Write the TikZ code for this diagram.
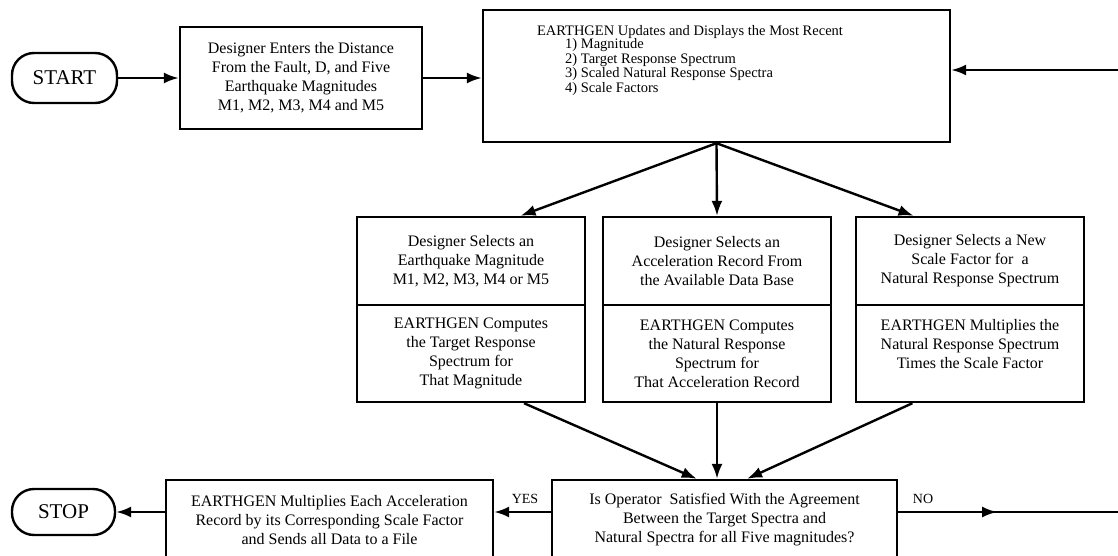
\documentclass[tikz,border=0pt]{standalone}
\usepackage{fontspec}
\setmainfont{Liberation Serif}
\usetikzlibrary{arrows.meta,calc,decorations.markings}

\newcommand{\boxfont}{\fontsize{16}{19}\selectfont}
\newcommand{\listfont}{\fontsize{14.5}{14.5}\selectfont}
\newcommand{\termfont}{\fontsize{21}{24}\selectfont}
\newcommand{\labelfont}{\fontsize{14}{16}\selectfont}

\begin{document}
\begin{tikzpicture}
    [x=1pt, y=-1pt,
    every node/.style={inner sep=0pt},
    box/.style={draw, line width=2.4pt, align=center, font=\boxfont},
    term/.style={draw, line width=2.4pt, rounded corners=22pt, font=\termfont},
    flow/.style={line width=2.4pt, -{Latex[length=15pt,width=11pt]}},
    midflow/.style={line width=2.4pt, postaction={decorate},
        decoration={markings, mark=at position 0.45 with {\arrow{Latex[length=15pt,width=11pt]}}}}
    ]
    \useasboundingbox (0,0) rectangle (1118,556);
    \clip (0,0) rectangle (1118,556);

    % top row
    \node[term, minimum width=105pt, minimum height=50pt] (start) at (64.5,78) {START};
    \node[box, minimum width=242pt, minimum height=102pt] (enter) at (301,78)
        {Designer Enters the Distance\\From the Fault, D, and Five\\Earthquake Magnitudes\\M1, M2, M3, M4 and M5};
    \node[box, minimum width=467pt, minimum height=132pt] (upd) at (716.5,76) {};
    \node[font=\listfont] (updtitle) at (690,32) {EARTHGEN Updates and Displays the Most Recent};
    \node[font=\listfont, align=left, anchor=west] (updlist) at (565,67)
        {1) Magnitude\\2) Target Response Spectrum\\3) Scaled Natural Response Spectra\\4) Scale Factors};
    \coordinate (loopin) at (1118,70);

    % middle row
    \node[box, minimum width=228pt, minimum height=88pt] (selA) at (471,261)
        {Designer Selects an\\Earthquake Magnitude\\M1, M2, M3, M4 or M5};
    \node[box, minimum width=228pt, minimum height=97pt] (compA) at (471,353.5)
        {EARTHGEN Computes\\the Target Response\\Spectrum for\\That Magnitude};
    \node[box, minimum width=228pt, minimum height=88pt] (selB) at (717,261)
        {Designer Selects an\\Acceleration Record From\\the Available Data Base};
    \node[box, minimum width=228pt, minimum height=97pt] (compB) at (717,353.5)
        {EARTHGEN Computes\\the Natural Response\\Spectrum for\\That Acceleration Record};
    \node[box, minimum width=228pt, minimum height=88pt] (selC) at (970,261)
        {Designer Selects a New\\Scale Factor for\ \ a\\Natural Response Spectrum};
    \node[box, minimum width=228pt, minimum height=97pt] (compC) at (970,353.5)
        {EARTHGEN Multiplies the\\Natural Response Spectrum\\Times the Scale Factor\\ \mbox{}};

    % bottom row
    \node[term, minimum width=103pt, minimum height=46pt] (stop) at (63.5,512) {STOP};
    \node[box, minimum width=327pt, minimum height=80pt] (mult) at (329.5,520)
        {EARTHGEN Multiplies Each Acceleration\\Record by its Corresponding Scale Factor\\and Sends all Data to a File};
    \node[box, minimum width=345pt, minimum height=80pt] (dec) at (724.5,520)
        {Is Operator\ \ Satisfied With the Agreement\\Between the Target Spectra and\\Natural Spectra for all Five magnitudes?};
    \node[font=\labelfont] (yes) at (525,499) {YES};
    \node[font=\labelfont] (no) at (923,499) {NO};
    \coordinate (loopout) at (1118,512);

    % connectors
    \draw[flow] (start) -- (enter);
    \draw[flow] (enter.east) -- (enter.east -| upd.west);
    \draw[flow] (loopin) -- (loopin -| upd.east);
    \draw[flow] (upd.south) -- ($(selA.north)!0.43!(selA.north east)$);
    \draw[flow] (upd.south) -- (selB.north);
    \draw[flow] (upd.south) -- ($(selC.north)!0.49!(selC.north west)$);
    \draw[flow] ($(compA.south)!0.46!(compA.south east)$) -- ($(dec.north)!0.16!(dec.north west)$);
    \draw[flow] (compB.south) -- (compB.south |- dec.north);
    \draw[flow] ($(compC.south)!0.5!(compC.south west)$) -- ($(dec.north)!0.13!(dec.north east)$);
    \draw[flow] ([yshift=8pt]dec.west) -- ([yshift=8pt]dec.west -| mult.east);
    \draw[flow] ([yshift=8pt]mult.west) -- (stop.east);
    \draw[midflow] ([yshift=8pt]dec.east) -- (loopout);
\end{tikzpicture}
\end{document}
